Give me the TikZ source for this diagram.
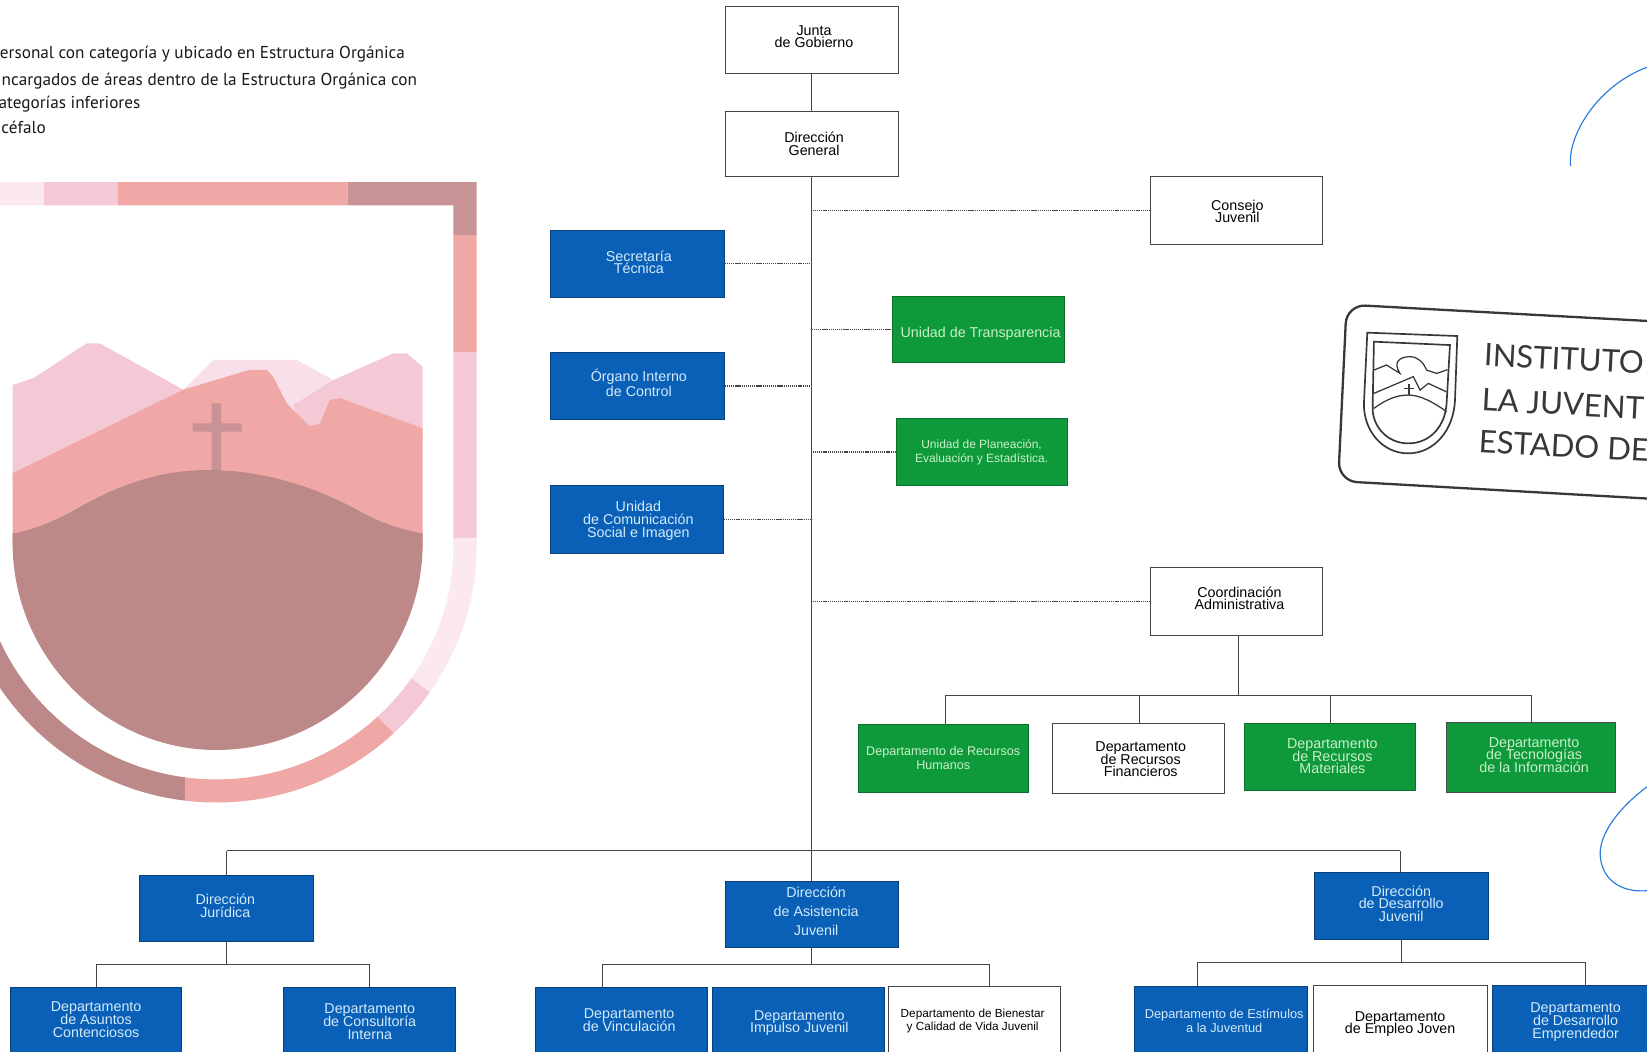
\documentclass[tikz,border=0pt]{standalone}
\usepackage{fontspec}
\setmainfont{Liberation Sans}
\newfontfamily\legendfont{PT Sans}
\newfontfamily\stampfont{Lato}
\definecolor{blueb}{HTML}{0A60B6}
\definecolor{blueln}{HTML}{0A3F78}
\definecolor{greenb}{HTML}{0E9A3A}
\definecolor{greenln}{HTML}{0B6E2A}
\definecolor{bluetx}{HTML}{D3EAFB}
\definecolor{greentx}{HTML}{C9F0C8}
\definecolor{lineg}{HTML}{444444}
\definecolor{pen}{HTML}{2A7BDE}
\definecolor{dusty}{HTML}{BC8888}
\definecolor{dustyb}{HTML}{C99295}
\definecolor{salmon}{HTML}{EFA8A6}
\definecolor{pinkm}{HTML}{F5C8D6}
\definecolor{pinkl}{HTML}{F9DFEA}
\definecolor{pinkv}{HTML}{FBE8F0}
\definecolor{stampc}{HTML}{383838}
\newcommand\bx[4]{\raisebox{\dimexpr #2pt-1.7pt\relax}[0pt][0pt]{\makebox[0pt]{\hspace{#1pt}\parbox{150pt}{\centering\lineskiplimit=-20pt\baselineskip=#3pt\relax #4\par}}}}
\newcommand\obox[7][]{\node[orgb,#1,minimum width={(#5-#3)*0.5pt},minimum height={(#6-#4)*0.5pt}] (#2) at ({(#3+#5)/2},{(#4+#6)/2}) {#7};}
\tikzset{
 orgb/.style={rectangle,inner sep=0pt,outer sep=0pt,line width=0.45pt,font=\fontsize{6.8}{7}\selectfont},
 wbox/.style={draw=lineg,fill=white,text=black},
 bbox/.style={draw=blueln,fill=blueb,text=bluetx},
 gbox/.style={draw=greenln,fill=greenb,text=greentx},
 solidl/.style={draw=lineg,line width=0.48pt},
 dotl/.style={draw=lineg,line width=0.7pt,dash pattern=on 0.6pt off 0.4pt},
 bandl/.style={line width=11pt,line join=miter},
 legend/.style={anchor=base east,font=\legendfont\fontsize{8.2}{9}\selectfont,text=black!90,inner sep=0pt},
 stampt/.style={anchor=base west,rotate=-3,font=\stampfont\fontsize{14.8}{16}\selectfont,text=stampc,inner sep=0pt},
 stampl/.style={draw=stampc,line width=1.1pt},
 stampm/.style={draw=stampc,line width=0.8pt},
 penl/.style={draw=pen,line width=0.55pt}
}
\newcommand\bandpath{(-10,184.5) -- (442.7,184.5) -- (442.7,520) .. controls (442.7,648) and (336,753) .. (206,753) .. controls (76,753) and (-30.7,648) .. (-30.7,520)}
\newcommand\bandseg[2]{\begin{scope}\clip #2 -- cycle;\draw[bandl,draw=#1] \bandpath;\end{scope}}
\begin{document}
\begin{tikzpicture}[x=0.5pt,y=-0.5pt]
\useasboundingbox (0,0) rectangle (1568,1001);
% --- legend text
\node[legend] (l1) at (386,55.5) {ersonal con categoría y ubicado en Estructura Orgánica};
\node[legend] (l2) at (397.5,81.5) {ncargados de áreas dentro de la Estructura Orgánica con};
\node[legend] (l3) at (134,103) {ategorías inferiores};
\node[legend] (l4) at (44,127) {céfalo};
% --- watermark shield: segmented band
\bandseg{pinkv}{(-15,165) -- (42,165) -- (42,205) -- (-15,205)}
\bandseg{pinkm}{(42,165) -- (112,165) -- (112,205) -- (42,205)}
\bandseg{salmon}{(112,165) -- (331,165) -- (331,205) -- (112,205)}
\bandseg{dustyb}{(331,165) -- (465,165) -- (465,224) -- (420,224) -- (420,205) -- (331,205)}
\bandseg{salmon}{(420,224) -- (465,224) -- (465,336) -- (420,336)}
\bandseg{pinkm}{(420,336) -- (465,336) -- (465,512) -- (420,512)}
\bandseg{pinkv}{(400,512) -- (470,512) -- (470,705) -- (360,622)}
\bandseg{pinkm}{(360,622) -- (470,705) -- (405,728) -- (335,658)}
\bandseg{salmon}{(335,658) -- (405,728) -- (400,790) -- (176,790) -- (176,700)}
\bandseg{dusty}{(176,700) -- (176,790) -- (-60,790) -- (-60,540) -- (40,540)}
% --- watermark shield: landscape
\fill[pinkl] (174,400) -- (174.5,371) -- (203,342.7) -- (282.5,342.7) -- (317.4,361.8) -- (317,410) -- cycle;
\fill[pinkm] (279.3,385.6) -- (317.4,361.8) -- (374.5,336.4) -- (387,336.4) -- (402.4,349) -- (402.4,415) -- (290,415) -- cycle;
\fill[pinkm] (12,366.5) -- (31.7,360) -- (82.5,326.9) -- (95,326.9) -- (174.5,371) -- (180,400) -- (12,460) -- cycle;
\fill[salmon] (12,450.6) -- (174.5,371) -- (238,352) -- (253.9,352.2) -- (260,358.6) -- (273,384) -- (295,406) -- (304.7,403) -- (314,380.8) -- (323.7,379) -- (402.4,407.8) -- (402.4,520) -- (12,520) -- cycle;
\fill[dustyb] (201.5,384) -- (210.5,384) -- (210.5,403) -- (230,403) -- (230,411) -- (210.5,411) -- (210.5,450) -- (201.5,450) -- (201.5,411) -- (183.4,411) -- (183.4,403) -- (201.5,403) -- cycle;
\fill[dusty] (12,507.8) .. controls (30,505) and (50,497) .. (70,486) .. controls (110,463) and (150,447.5) .. (198,447.5) .. controls (250,447.5) and (300,463) .. (345,488) .. controls (365,499) and (385,505) .. (402.4,507.8) -- (402.4,517) .. controls (402.4,625) and (315,714) .. (206,714) .. controls (100,714) and (12,625) .. (12,517) -- cycle;
% --- stamp
\draw[stampl,rounded corners=9pt] (1282,290) -- (1760,316) -- (1752,485) -- (1274,458) -- cycle;
\draw[stampm] (1301.7,316.7) -- (1387.4,319.9) -- (1385.2,380.8) .. controls (1384,410) and (1365,431.6) .. (1340.7,431.6) .. controls (1316,431.6) and (1298,410) .. (1298.5,384) -- cycle;
\draw[stampm] (1308,325.3) -- (1380.4,328.5) -- (1377.2,384) .. controls (1376,405) and (1362,422.1) .. (1340.7,422.1) .. controls (1320,422.1) and (1306,405) .. (1306.8,387.2) -- cycle;
\draw[stampm,line width=0.6pt] (1308,388.8) .. controls (1320,380) and (1330,376.1) .. (1340.7,376.1) .. controls (1352,376.1) and (1365,383) .. (1377.2,392);
\draw[stampm,line width=0.6pt] (1308,374.5) -- (1345.5,358.6) -- (1351.9,371.4) -- (1359.8,365) -- (1377,373);
\draw[stampm,line width=0.6pt] (1308,352.3) -- (1320,347.5) -- (1332.8,355.5) .. controls (1326,345) and (1332,339.6) .. (1342.3,339.6) .. controls (1350,339.6) and (1355,345) .. (1358.2,352.3) -- (1367.7,355.5) -- (1378,352);
\draw[stampm,line width=0.6pt] (1341.4,366) -- (1341.4,376) (1337,370) -- (1346,370);
\node[stampt] (s1) at (1412,348) {INSTITUTO};
\node[stampt] (s2) at (1410,391) {LA JUVENT};
\node[stampt] (s3) at (1407,431) {ESTADO DE};
% --- pen arcs
\draw[penl] (1495.3,158) .. controls (1492,130) and (1520,82) .. (1568,64);
\draw[penl] (1568,749) .. controls (1540,770) and (1522,795) .. (1523.5,815) .. controls (1525,835) and (1540,850) .. (1568,848);
% --- boxes
\obox[wbox]{junta}{691}{6}{855}{70}{\bx{2}{1.5}{6}{Junta\\de Gobierno}}
\obox[wbox]{dg}{691}{106}{855}{168}{\bx{2}{0}{6.5}{Dirección\\General}}
\obox[wbox]{consejo}{1095}{168}{1259}{233}{\bx{1}{-0.5}{6}{Consejo\\Juvenil}}
\obox[bbox]{sec}{524.5}{219}{690}{283}{\bx{1}{0.5}{6}{Secretaría\\Técnica}}
\obox[bbox]{org}{524.5}{336}{690}{399}{\bx{1}{1.5}{7.2}{Órgano Interno\\de Control}}
\obox[bbox]{ucs}{524.5}{462}{689}{527}{\bx{1}{-0.5}{6.2}{Unidad\\de Comunicación\\Social e Imagen}}
\obox[gbox,font=\fontsize{6.8}{7}\selectfont]{utr}{850}{282.5}{1013}{345}{\bx{2}{-2.2}{7}{Unidad de Transparencia}}
\obox[gbox,font=\fontsize{5.7}{6}\selectfont]{upl}{853}{398.5}{1016}{462}{\bx{0}{0}{6.6}{Unidad de Planeación,\\Evaluación y Estadística.}}
\obox[wbox]{coord}{1095}{540.5}{1259}{605}{\bx{3}{1.5}{6}{Coordinación\\Administrativa}}
\obox[gbox,font=\fontsize{6}{7}\selectfont]{drh}{817}{690}{979}{754}{\bx{0}{0.5}{6.6}{Departamento de Recursos\\Humanos}}
\obox[wbox]{drf}{1002}{689}{1166}{755}{\bx{2}{-0.5}{6.1}{Departamento\\de Recursos\\Financieros}}
\obox[gbox]{drm}{1185}{689}{1348}{753}{\bx{2}{0.5}{6.1}{Departamento\\de Recursos\\Materiales}}
\obox[gbox,draw=black!70]{dti}{1377}{688}{1538}{754}{\bx{3}{1}{6.1}{Departamento\\de Tecnologías\\de la Información}}
\obox[bbox]{djur}{133}{833}{298}{896}{\bx{-1}{1}{6.1}{Dirección\\Jurídica}}
\obox[bbox]{dasi}{691}{839}{855}{902}{\bx{4}{1.5}{9}{Dirección\\de Asistencia\\Juvenil}}
\obox[bbox]{ddes}{1251}{831}{1417}{894}{\bx{0}{1}{6.1}{Dirección\\de Desarrollo\\Juvenil}}
\obox[bbox]{dasu}{10}{940}{173}{1004}{\bx{0}{0.5}{6.2}{Departamento\\de Asuntos\\Contenciosos}}
\obox[bbox]{dcon}{270}{940}{434}{1004}{\bx{0}{-0.5}{6.2}{Departamento\\de Consultoría\\Interna}}
\obox[bbox]{dvin}{510}{940}{674}{1004}{\bx{7}{0.5}{6.1}{Departamento\\de Vinculación}}
\obox[bbox]{dimp}{678}{940}{842}{1004}{\bx{1}{-1}{6.1}{Departamento\\Impulso Juvenil}}
\obox[wbox,font=\fontsize{5.6}{6}\selectfont]{dbie}{846}{939}{1010}{1004}{\bx{-2}{0}{6.4}{Departamento de Bienestar\\y Calidad de Vida Juvenil}}
\obox[bbox,font=\fontsize{6.1}{7}\selectfont]{dest}{1080}{939}{1245}{1004}{\bx{3}{0}{6.9}{Departamento de Estímulos\\a la Juventud}}
\obox[wbox]{demp}{1250}{938}{1416}{1004}{\bx{0}{-2}{6.1}{Departamento\\de Empleo Joven}}
\obox[bbox]{dder}{1421}{938}{1585}{1004}{\bx{-3}{-1}{6.1}{Departamento\\de Desarrollo\\Emprendedor}}
% --- connectors: trunk
\draw[solidl] (junta.south) -- (dg.north);
\draw[solidl] (dg.south) -- (dasi.north);
\coordinate (busl) at (216,810);
\coordinate (busr) at (1333,810);
\draw[solidl] (busl) -- (busr);
\draw[solidl] (busl) -- (busl |- djur.north);
\draw[solidl] (busr) -- (busr |- ddes.north);
% --- dotted staff lines
\draw[dotl] (consejo.west) -- (consejo.west -| dg.south);
\draw[dotl] (sec.east) -- (sec.east -| dg.south);
\draw[dotl] (org.east) -- (org.east -| dg.south);
\draw[dotl] (ucs.east) -- (ucs.east -| dg.south);
\draw[dotl] (utr.west) -- (utr.west -| dg.south);
\draw[dotl] (upl.west) -- (upl.west -| dg.south);
\draw[dotl] (coord.west) -- (coord.west -| dg.south);
% --- Coordinación branch
\coordinate (ca1) at (900,662);
\coordinate (ca2) at (1085,662);
\coordinate (ca3) at (1267,662);
\coordinate (ca4) at (1458,662);
\coordinate (cad) at (1179,605);
\draw[solidl] (cad) -- (cad |- ca1);
\draw[solidl] (ca1) -- (ca4);
\draw[solidl] (ca1) -- (ca1 |- drh.north);
\draw[solidl] (ca2) -- (ca2 |- drf.north);
\draw[solidl] (ca3) -- (ca3 |- drm.north);
\draw[solidl] (ca4) -- (ca4 |- dti.north);
% --- Jurídica branch
\coordinate (ja1) at (92,918);
\coordinate (ja2) at (352,918);
\draw[solidl] (djur.south) -- (djur.south |- ja1);
\draw[solidl] (ja1) -- (ja2);
\draw[solidl] (ja1) -- (ja1 |- dasu.north);
\draw[solidl] (ja2) -- (ja2 |- dcon.north);
% --- Asistencia branch
\coordinate (aa1) at (574,918);
\coordinate (aa2) at (942,918);
\draw[solidl] (dasi.south) -- (dasi.south |- aa1);
\draw[solidl] (aa1) -- (aa2);
\draw[solidl] (aa1) -- (aa1 |- dvin.north);
\draw[solidl] (aa2) -- (aa2 |- dbie.north);
% --- Desarrollo branch
\coordinate (da1) at (1140,916);
\coordinate (da2) at (1509,916);
\draw[solidl] (ddes.south) -- (ddes.south |- da1);
\draw[solidl] (da1) -- (da2);
\draw[solidl] (da1) -- (da1 |- dest.north);
\draw[solidl] (da2) -- (da2 |- dder.north);
\end{tikzpicture}
\end{document}
